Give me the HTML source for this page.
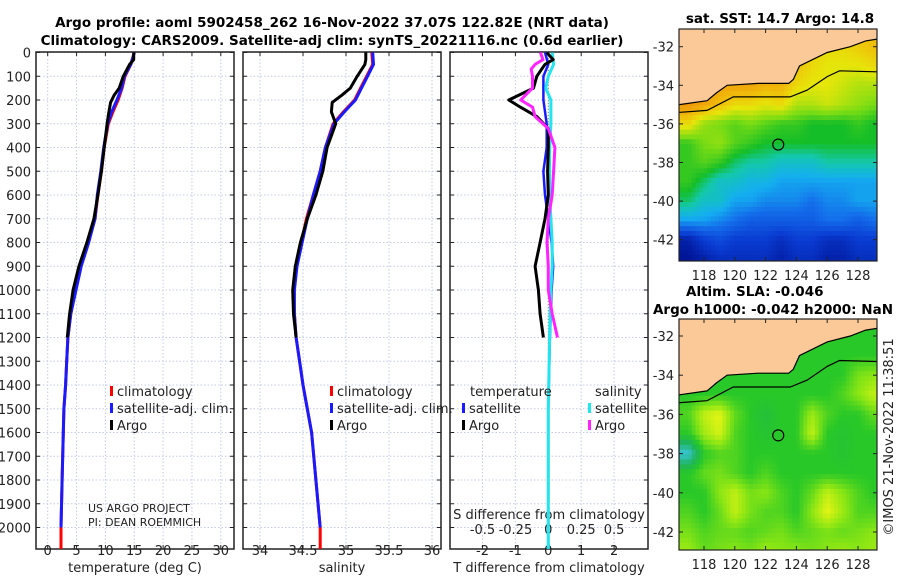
<!DOCTYPE html>
<html><head><meta charset="utf-8"><style>
body{margin:0;background:#fff;}
svg{display:block;font-family:"DejaVu Sans","Liberation Sans",sans-serif;}
.t{font-size:13px;fill:#222;}
.b{font-weight:bold;fill:#000;font-size:13.5px;}
</style></head><body>
<svg id="fig" width="900" height="580" viewBox="0 0 900 580">
<defs>
<clipPath id="c1"><rect x="36" y="52" width="198" height="497"/></clipPath>
<clipPath id="c2"><rect x="243" y="52" width="198" height="497"/></clipPath>
<clipPath id="c3"><rect x="450" y="52" width="198" height="497"/></clipPath>
<clipPath id="m1"><rect x="679" y="29" width="198" height="232"/></clipPath>
<clipPath id="m2"><rect x="679" y="319" width="198" height="231"/></clipPath>
</defs>
<text class="b" x="332" y="27" text-anchor="middle">Argo profile: aoml 5902458_262 16-Nov-2022 37.07S 122.82E (NRT data)</text>
<text class="b" x="332" y="45" text-anchor="middle">Climatology: CARS2009. Satellite-adj clim: synTS_20221116.nc (0.6d earlier)</text>
<text class="b" x="780" y="23" text-anchor="middle">sat. SST: 14.7 Argo: 14.8</text>
<text class="b" x="686" y="296">Altim. SLA: -0.046</text>
<text class="b" x="893" y="314" text-anchor="end">Argo h1000: -0.042 h2000: NaN</text>
<text class="t" x="0" y="0" transform="translate(893,437) rotate(-90)" text-anchor="middle">©IMOS 21-Nov-2022 11:38:51</text>
<g id="g"></g>
</svg>
<script>
// ---- profile data ----
const depthT = [0,50,100,150,200,250,300,400,500,600,700,800,900,1000,1100,1200,1300,1400,1500,1600,1800,2000,2090];
const tempClim = [15.0,14.4,13.4,12.9,12.2,11.3,10.5,9.8,9.3,8.7,8.2,7.0,5.7,4.8,4.0,3.5,3.3,3.1,2.8,2.7,2.5,2.3,2.3];
const tempSat  = [15.0,14.4,13.3,12.8,12.0,11.1,10.4,9.7,9.2,8.6,8.2,7.1,5.8,4.9,4.0,3.5,3.3,3.1,2.8,2.7,2.5,2.3,2.3];
const depthA = [0,30,50,100,150,180,210,250,300,400,500,600,700,800,900,1000,1100,1200];
const tempArgo = [14.9,14.9,14.2,13.1,12.4,11.5,10.9,10.6,10.3,9.8,9.3,8.7,8.0,6.8,5.4,4.4,3.8,3.4];
const salClim = [35.30,35.31,35.24,35.17,35.10,34.97,34.85,34.76,34.70,34.62,34.54,34.48,34.42,34.39,34.40,34.42,34.46,34.50,34.55,34.60,34.65,34.70,34.70];
const salSat  = [35.31,35.32,35.25,35.18,35.11,34.98,34.86,34.76,34.70,34.62,34.55,34.49,34.43,34.40,34.40,34.42,34.46,34.50,34.55,34.60,34.65,34.70,34.70];
const salArgo = [35.23,35.23,35.22,35.13,35.05,34.95,34.84,34.83,34.88,34.78,34.73,34.65,34.55,34.47,34.41,34.38,34.39,34.42];
const depthD = [0,30,50,70,100,150,200,230,270,320,400,500,600,700,800,900,1000,1100,1200];
const dTArgo = [-0.05,0.15,-0.1,-0.2,-0.35,-0.45,-1.2,-0.85,-0.35,0,0,-0.02,0,-0.1,-0.25,-0.4,-0.3,-0.25,-0.15];
const dSArgo = [-0.06,-0.04,-0.1,-0.13,-0.12,-0.12,-0.21,-0.12,-0.1,0,0.05,0.04,0.03,0,-0.01,0,0,0.03,0.07];
const depthS = [0,50,100,150,200,300,400,500,600,700,800,900,1000,1200,1500,2000,2090];
const dTSat = [-0.1,0,-0.15,-0.15,-0.15,-0.05,-0.05,-0.15,-0.1,0,0.1,0.15,0.1,0.05,0,0,0];
const dSSat = [0.03,0.04,0,-0.02,0.02,0.02,0.01,0.01,0.01,0.02,0.03,0.03,0.02,0.01,0,0,0];
// ---- map data ----
const mapLats = [-32,-33,-34,-35,-36,-37,-38,-39,-40,-41,-42,-43];
const mapLons = [117,118,119,120,121,122,123,124,125,126,127,128,129];
const sstRows = [
[16.1,16.1,16.1,16.1,16.1,16.1,16.1,15.9,15.7,15.6,15.6,15.7,15.8],
[16.0,16.0,16.0,16.0,16.0,16.0,16.0,15.8,15.6,15.5,15.5,15.5,15.6],
[16.0,16.0,16.0,16.0,16.0,15.9,15.9,15.6,15.5,15.5,15.4,15.3,15.3],
[16.1,16.0,15.8,15.6,15.6,15.5,15.6,15.3,15.3,15.4,15.3,15.2,15.1],
[15.6,15.2,15.1,15.0,15.1,15.0,14.9,14.9,14.8,14.8,14.8,14.9,14.8],
[14.9,15.1,15.2,15.0,14.9,14.8,14.8,14.8,14.8,14.8,14.8,14.8,14.8],
[14.9,15.0,14.9,14.7,14.6,14.6,14.5,14.5,14.5,14.6,14.6,14.6,14.6],
[14.9,14.7,14.5,14.5,14.4,14.4,14.3,14.3,14.3,14.3,14.3,14.3,14.3],
[14.7,14.5,14.5,14.3,14.3,14.2,14.2,14.2,14.1,14.2,14.2,14.3,14.3],
[14.3,14.3,14.2,14.1,14.0,14.0,14.0,14.0,14.0,14.1,14.1,14.0,14.1],
[13.6,13.8,13.9,13.8,13.8,13.8,13.7,13.8,13.8,13.7,13.7,13.8,13.8],
[13.5,13.6,13.7,13.7,13.7,13.7,13.6,13.7,13.7,13.6,13.6,13.7,13.7]];
const slaRows = [
[0,0,0,0,0,0,0,0,0,0,0,0,0],
[0,0,0,0,0,0,0,0,0,0,0,0,0],
[0,0,0,0,0,0,0,0,0,0,0,0.04,0.05],
[0,0,0,0,0,0,0,0,0,0,0.02,0.05,0.08],
[0.02,0.08,0.1,0.03,0,-0.02,0,0,0.06,0.02,0,0,0.03],
[0,0.06,0.09,0.02,0,-0.01,0,0,0.08,0,-0.01,0,0],
[-0.12,0,0.02,0.02,0,0,0,0,0,0,-0.01,0,0],
[0,0.03,0.04,0.02,0,0.02,0,0,0,0,0,0,0],
[0,0,0.05,0.08,0.04,0.05,0.02,0,0.03,0.08,0.05,0.02,0],
[0.02,0,0.03,0.08,0.04,0.02,0.02,0,0.05,0.1,0.06,0.02,0.02],
[0.04,0.02,0.03,0.03,0.02,0.03,0.04,0.02,0.03,0.04,0.03,0.04,0.05],
[0.06,0.03,0.04,0.05,0.04,0.06,0.05,0.05,0.04,0.05,0.06,0.05,0.06]];
const coastLon = [116.0,116.4,118.2,118.8,119.5,121.5,123.5,123.8,124.2,126.0,127.5,128.5,129.3,130];
const coastLat = [-35.0,-35.0,-34.8,-34.4,-34.0,-33.9,-33.9,-33.7,-33.0,-32.3,-32.0,-31.7,-31.6,-31.6];
const isoLon = [116.0,116.45,118.2,119.9,123.6,124.7,126.0,126.8,129.2,130];
const isoLat = [-35.4,-35.4,-35.3,-34.6,-34.6,-34.25,-33.55,-33.25,-33.3,-33.3];
const floatLon = 122.82, floatLat = -37.07;
const depthTicks = [0,100,200,300,400,500,600,700,800,900,1000,1100,1200,1300,1400,1500,1600,1700,1800,1900,2000];
const tTicks = [0,5,10,15,20,25,30];
const sTicks = [34,34.5,35,35.5,36];
const dTicks = [-2,-1,0,1,2];
const dsTicks = [-0.5,-0.25,0,0.25,0.5];
const dsLabels = ['-0.5','-0.25','0','0.25','0.5'];
const latTicks = [-32,-34,-36,-38,-40,-42];
const lonTicks = [118,120,122,124,126,128];

const NS='http://www.w3.org/2000/svg';
const G=document.getElementById('g');
function mk(tag,at,parent){const e=document.createElementNS(NS,tag);for(const k in at)e.setAttribute(k,at[k]);(parent||G).appendChild(e);return e;}
const yD=d=>52.5+d*0.2375;
const xT=t=>47.7+t*5.77;
const xS=s=>260+(s-34)*86;
const xD=d=>548.3+d*32.9;
const xDS=s=>548.3+s*131.6;
const mx=lon=>704+(lon-118)*15.4;
const my1=lat=>46.7+(-32-lat)*19.3;
const my2=lat=>336+(-32-lat)*19.6;

const panels=[{x:36,c:'c1',n:'temperature-panel'},{x:243,c:'c2',n:'salinity-panel'},{x:450,c:'c3',n:'difference-panel'}];
const vx=[tTicks.map(xT),sTicks.map(xS),dTicks.map(xD)];
panels.forEach((p,i)=>{
  const pg=mk('g',{});
  
  
  depthTicks.forEach(d=>{
    const l=mk('line',{x1:p.x,x2:p.x+198,y1:yD(d),y2:yD(d),stroke:'#c4cbe6','stroke-width':1,'stroke-dasharray':'1.5,2'},pg);
    
    
    mk('line',{x1:p.x,x2:p.x+4,y1:yD(d),y2:yD(d),stroke:'#222'},pg);
    mk('line',{x1:p.x+198,x2:p.x+194,y1:yD(d),y2:yD(d),stroke:'#222'},pg);
  });
  vx[i].forEach(x=>{
    const l=mk('line',{x1:x,x2:x,y1:52,y2:549,stroke:'#c4cbe6','stroke-width':1,'stroke-dasharray':'1.5,2'},pg);
    
    
    mk('line',{x1:x,x2:x,y1:549,y2:545,stroke:'#222'},pg);
    mk('line',{x1:x,x2:x,y1:52,y2:56,stroke:'#222'},pg);
  });
  const fr=mk('rect',{x:p.x,y:52,width:198,height:497,fill:'none',stroke:'#222','stroke-width':1.5},pg);
  
  
});
depthTicks.forEach(d=>{
  const t=mk('text',{x:31,y:yD(d)+5,'text-anchor':'end',class:'t'});t.textContent=d;
  
  
});
function xlabels(ticks,fx,labels,y){ticks.forEach((v,i)=>{const t=mk('text',{x:fx(v),y:y,'text-anchor':'middle',class:'t'});t.textContent=labels?labels[i]:v;
  
  });}
xlabels(tTicks,xT,null,555);
xlabels(sTicks,xS,null,555);
xlabels(dTicks,xD,null,555);
xlabels(dsTicks,xDS,dsLabels,534);
function lab(txt,x,y,name){const t=mk('text',{x:x,y:y,'text-anchor':'middle',class:'t'});t.textContent=txt;
  
  return t;}
lab('temperature (deg C)',135,572,'temperature-axis-title');
lab('salinity',342,572,'salinity-axis-title');
lab('T difference from climatology',549,572,'t-diff-axis-title');
lab('S difference from climatology',549,519,'s-diff-axis-title');
const u1=mk('text',{x:88,y:512,class:'t'});u1.style.fontSize='11px';u1.textContent='US ARGO PROJECT';


const u2=mk('text',{x:88,y:526,class:'t'});u2.style.fontSize='11px';u2.textContent='PI: DEAN ROEMMICH';



function line(xs,ds,fx,col,clip,name,w){
  const pts=xs.map((v,i)=>fx(v).toFixed(1)+','+yD(ds[i]).toFixed(1)).join(' ');
  const p=mk('polyline',{points:pts,fill:'none',stroke:col,'stroke-width':w||3,'stroke-linejoin':'round','clip-path':'url(#'+clip+')'});
  
  
}
line(tempClim,depthT,xT,'#ff0000','c1','temp-climatology-line');
line(tempSat.slice(0,22),depthT.slice(0,22),xT,'#1a1aff','c1','temp-satellite-line');
line(tempArgo,depthA,xT,'#000','c1','temp-argo-line');
line(salClim,depthT,xS,'#ff0000','c2','sal-climatology-line');
line(salSat.slice(0,22),depthT.slice(0,22),xS,'#1a1aff','c2','sal-satellite-line');
line(salArgo,depthA,xS,'#000','c2','sal-argo-line');
mk('line',{x1:xD(0),x2:xD(0),y1:52,y2:549,stroke:'#888','stroke-width':1,'stroke-dasharray':'1,2'});
line(dTSat,depthS,xD,'#1a1aff','c3','temp-satellite-diff-line',2.5);
line(dSSat,depthS,xDS,'#22e5f0','c3','sal-satellite-diff-line');
line(dTArgo,depthD,xD,'#000','c3','temp-argo-diff-line');
line(dSArgo,depthD,xDS,'#ff22ff','c3','sal-argo-diff-line');

function legend(x,y,col,txt,name){
  const g=mk('g',{});
  
  
  mk('rect',{x:x,y:y-10,width:3,height:10,fill:col},g);
  const t=mk('text',{x:x+7,y:y,class:'t'},g);t.textContent=txt;
}
legend(110,396,'#ff0000','climatology','legend-climatology');
legend(110,413,'#1a1aff','satellite-adj. clim.','legend-satellite-adj');
legend(110,430,'#000','Argo','legend-argo');
legend(330,396,'#ff0000','climatology','legend-climatology-2');
legend(330,413,'#1a1aff','satellite-adj. clim.','legend-satellite-adj-2');
legend(330,430,'#000','Argo','legend-argo-2');
const th=mk('text',{x:470,y:396,class:'t'});th.textContent='temperature';


const sh=mk('text',{x:595,y:396,class:'t'});sh.textContent='salinity';


legend(462,413,'#1a1aff','satellite','legend-t-satellite');
legend(462,430,'#000','Argo','legend-t-argo');
legend(588,413,'#22e5f0','satellite','legend-s-satellite');
legend(588,430,'#ff22ff','Argo','legend-s-argo');

// ---- maps ----
function interp(stops,v){
  if(v<=stops[0][0])return stops[0][1];
  for(let i=1;i<stops.length;i++){if(v<=stops[i][0]){const a=stops[i-1],b=stops[i],f=(v-a[0])/(b[0]-a[0]);
    return a[1].map((c,k)=>Math.round(c+(b[1][k]-c)*f));}}
  return stops[stops.length-1][1];
}
const sstC=[[13.5,[0,20,150]],[13.8,[10,60,210]],[14.1,[20,110,235]],[14.35,[20,175,240]],[14.6,[20,200,170]],[14.8,[20,190,40]],[15.1,[120,220,20]],[15.5,[230,230,10]],[15.8,[240,190,10]],[16.1,[240,150,10]]];
const slaC=[[-0.13,[60,200,230]],[-0.05,[30,180,90]],[0,[40,200,40]],[0.05,[140,230,20]],[0.1,[230,245,20]]];
function sample(rows,lon,lat){
  let fi=(-32-lat), fj=(lon-117);
  fi=Math.max(0,Math.min(mapLats.length-1.001,fi));fj=Math.max(0,Math.min(mapLons.length-1.001,fj));
  const i=Math.floor(fi),j=Math.floor(fj),a=fi-i,b=fj-j;
  return rows[i][j]*(1-a)*(1-b)+rows[i+1][j]*a*(1-b)+rows[i][j+1]*(1-a)*b+rows[i+1][j+1]*a*b;
}
function drawMap(rows,cm,my,clip,name,y0,y1,step){
  const mg=mk('g',{'clip-path':'url(#'+clip+')'});
  
  
  for(let lat=-30.8;lat>-43.6;lat-=step){
    for(let lon=116.2;lon<129.6;lon+=step){
      const c=interp(cm,sample(rows,lon+step/2,lat-step/2));
      mk('rect',{x:mx(lon).toFixed(1),y:my(lat).toFixed(1),width:(step*15.4+0.6).toFixed(1),height:(step*19.4+0.6).toFixed(1),fill:'rgb('+c.join(',')+')'},mg);
    }
  }
  const land=coastLon.map((v,i)=>mx(v).toFixed(1)+','+my(coastLat[i]).toFixed(1)).join(' ')+' '+mx(130)+','+(y0-5)+' '+mx(116)+','+(y0-5);
  const lp=mk('polygon',{points:land,fill:'#fbc998',stroke:'#000','stroke-width':1.2},mg);
  
  
  const iso=mk('polyline',{points:isoLon.map((v,i)=>mx(v).toFixed(1)+','+my(isoLat[i]).toFixed(1)).join(' '),fill:'none',stroke:'#000','stroke-width':1.2},mg);
  
  
  const fc=mk('circle',{cx:mx(floatLon),cy:my(floatLat),r:5.5,fill:'none',stroke:'#000','stroke-width':1.2},mg);
  
  
  mk('rect',{x:679,y:y0,width:198,height:y1-y0,fill:'none',stroke:'#222','stroke-width':1.2});
  latTicks.forEach(l=>{const t=mk('text',{x:674,y:my(l)+5,'text-anchor':'end',class:'t'});t.textContent=l;
    
    
    mk('line',{x1:679,x2:683,y1:my(l),y2:my(l),stroke:'#222'});mk('line',{x1:877,x2:873,y1:my(l),y2:my(l),stroke:'#222'});});
  lonTicks.forEach(l=>{const t=mk('text',{x:mx(l),y:y1+19,'text-anchor':'middle',class:'t'});t.textContent=l;
    
    
    mk('line',{x1:mx(l),x2:mx(l),y1:y1,y2:y1-4,stroke:'#222'});mk('line',{x1:mx(l),x2:mx(l),y1:y0,y2:y0+4,stroke:'#222'});});
}
drawMap(sstRows,sstC,my1,'m1','sst-map',29,261,0.25);
drawMap(slaRows,slaC,my2,'m2','sla-map',319,550,0.25);
</script>
</body></html>
